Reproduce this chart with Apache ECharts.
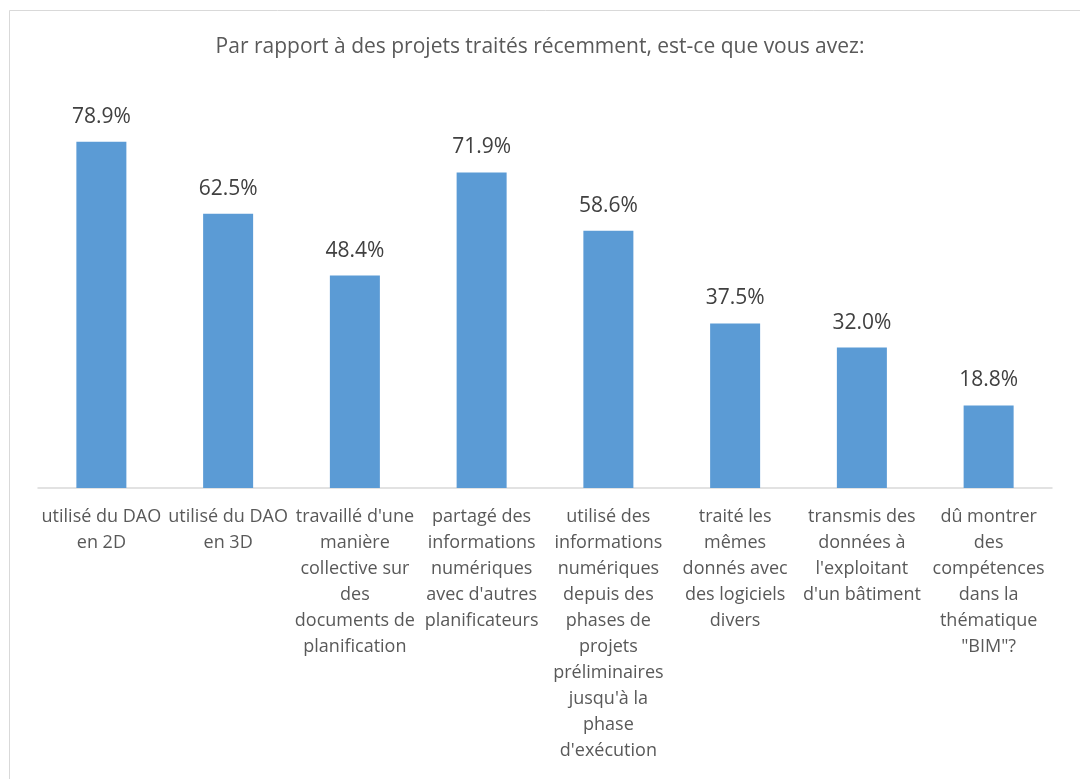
<!DOCTYPE html>
<html>
<head>
<meta charset="utf-8">
<script src="https://cdn.jsdelivr.net/npm/echarts@6/dist/echarts.min.js"></script>
<style>
html,body{margin:0;padding:0;background:#fff;}
#chart{width:1080px;height:779px;}
</style>
</head>
<body>
<div id="chart"></div>
<script>
const titleText = "Par rapport à des projets traités récemment, est-ce que vous avez:";
const categories = [
  "utilisé du DAO\nen 2D",
  "utilisé du DAO\nen 3D",
  "travaillé d'une\nmanière\ncollective sur\ndes\ndocuments de\nplanification",
  "partagé des\ninformations\nnumériques\navec d'autres\nplanificateurs",
  "utilisé des\ninformations\nnumériques\ndepuis des\nphases de\nprojets\npréliminaires\njusqu'à la\nphase\nd'exécution",
  "traité les\nmêmes\ndonnés avec\ndes logiciels\ndivers",
  "transmis des\ndonnées à\nl'exploitant\nd'un bâtiment",
  "dû montrer\ndes\ncompétences\ndans la\nthématique\n\"BIM\"?"
];
const values = [78.9, 62.5, 48.4, 71.9, 58.6, 37.5, 32.0, 18.8];

const FONT = '"Open Sans", "Noto Sans", sans-serif';
const chart = echarts.init(document.getElementById('chart'));
chart.setOption({
  animation: false,
  backgroundColor: '#ffffff',
  graphic: [{
    type: 'rect',
    shape: { x: 9.5, y: 10.5, width: 1100, height: 800 },
    style: { fill: 'none', stroke: '#D9D9D9', lineWidth: 1 },
    silent: true
  }],
  title: {
    text: titleText,
    left: 'center',
    top: 35,
    padding: 0,
    textStyle: { fontFamily: FONT, fontSize: 21, fontWeight: 'normal', color: '#595959', lineHeight: 24 }
  },
  grid: { left: 38, right: 28, top: 93, bottom: 291, containLabel: false },
  xAxis: {
    type: 'category',
    data: categories,
    axisLine: { show: true, lineStyle: { color: '#D9D9D9', width: 1.5 } },
    axisTick: { show: false },
    axisLabel: {
      interval: 0,
      margin: 16,
      fontFamily: FONT,
      fontSize: 18,
      lineHeight: 26,
      color: '#595959',
      align: 'center',
      verticalAlign: 'top'
    }
  },
  yAxis: {
    type: 'value',
    min: 0,
    max: 90,
    show: false,
    splitLine: { show: false }
  },
  series: [{
    type: 'bar',
    data: values,
    barWidth: 50,
    itemStyle: { color: '#5B9BD5' },
    label: {
      show: true,
      position: 'top',
      distance: 13,
      formatter: p => p.value.toFixed(1) + '%',
      fontFamily: FONT,
      fontSize: 21,
      lineHeight: 24,
      color: '#404040'
    }
  }]
});
</script>
</body>
</html>
